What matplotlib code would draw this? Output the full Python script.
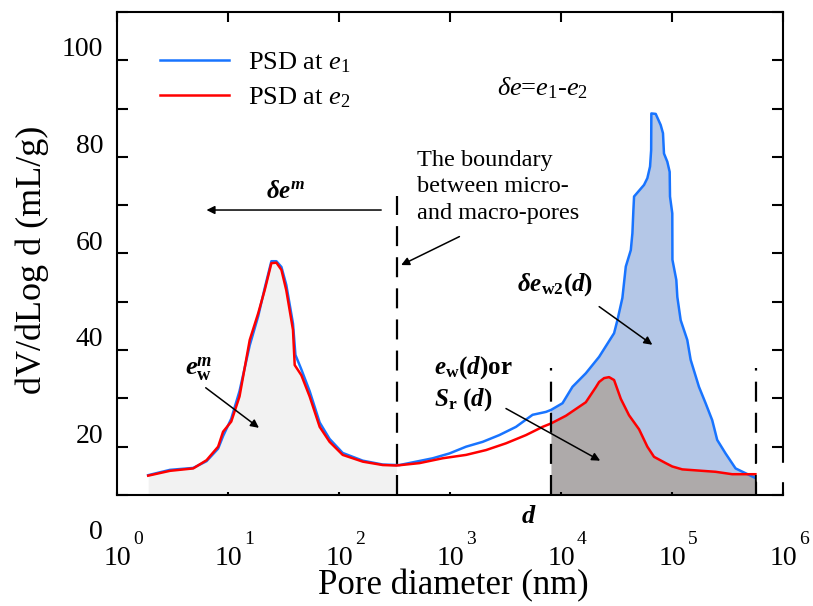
import numpy as np
import matplotlib
matplotlib.use('Agg')
import matplotlib.pyplot as plt
from matplotlib.patches import Rectangle
from matplotlib.ticker import NullLocator
from matplotlib.transforms import ScaledTranslation

plt.rcParams['font.family'] = ['Liberation Serif', 'DejaVu Serif']
plt.rcParams['mathtext.fontset'] = 'custom'
plt.rcParams['mathtext.rm'] = 'Liberation Serif'
plt.rcParams['mathtext.it'] = 'Liberation Serif:italic'
plt.rcParams['mathtext.bf'] = 'Liberation Serif:bold'
plt.rcParams['mathtext.sf'] = 'Liberation Serif:bold:italic'   # used as bold italic

# pore diameter (nm) / dV/dlogd (mL/g)
d_e1 = [1.91, 3.0, 4.86, 6.41, 8.15, 9.03, 10.7, 12.7, 15.7, 18.7, 21.4, 24.6,
        27.3, 30.3, 33.5, 38.5, 40.5, 45.8, 54.4, 67, 82.3, 108, 164, 248, 330,
        351, 699, 988, 1396, 1969, 2782, 3929, 5546, 7316, 8115, 10320, 12690,
        16740, 22050, 30080, 32230, 35730, 38350, 42550, 43980, 44900, 45530,
        50490, 55990, 59980, 63420, 64900, 65150, 71330, 79090, 82950, 84690,
        90720, 95300, 95940, 100600, 100900, 109400, 111700, 119700, 137300,
        147200, 174900, 200800, 230200, 255400, 303800, 373900, 460100, 566000]
psd_e1 = [4.1, 5.2, 5.6, 7.0, 9.6, 12.2, 15.8, 21.5, 31.0, 37.0, 42.8, 48.4,
          48.4, 47.2, 43.5, 35.5, 29.0, 26.0, 21.5, 15.0, 11.6, 8.7, 7.1, 6.3, 6.2,
          6.2, 7.6, 8.6, 10.0, 11.0, 12.4, 14.1, 16.6, 17.2, 17.6, 19.0, 22.4,
          25.2, 28.6, 33.5, 36.2, 40.8, 47.3, 50.7, 54.2, 59.0, 61.8,
          63.0, 64.2, 65.6, 68.0, 71.4, 79.0, 78.9, 76.6, 74.9, 70.7,
          69.0, 66.9, 61.8, 58.3, 48.7, 44.5, 41.0, 36.2, 32.1,
          28.0, 22.4, 19.0, 15.5, 11.4, 8.6, 5.5, 4.5, 3.5]

d_e2 = [1.91, 3.0, 4.86, 6.41, 8.15, 9.03, 10.7, 12.7, 15.7, 18.7, 21.4, 24.6,
        27.3, 30.3, 33.5, 38.5, 39.9, 45.8, 54.4, 67, 82.3, 108, 164, 248, 330,
        531, 859, 1396, 2113, 3197, 4835, 6819, 8115, 11070, 16740, 20590,
        22050, 24450, 27110, 30080, 34590, 41020, 50490, 59980, 68870, 87700,
        100600, 123800, 247100, 348300, 566000]
psd_e2 = [4.0, 5.0, 5.5, 7.2, 10.0, 13.1, 15.2, 20.4, 32.1, 37.6, 42.4, 48.0,
          48.1, 46.6, 42.4, 34.2, 26.9, 24.8, 20.4, 14.1, 11.0, 8.3, 6.9, 6.2, 6.1,
          6.6, 7.6, 8.3, 9.3, 10.7, 12.4, 14.1, 14.8, 16.4, 19.2, 22.3,
          23.4, 24.2, 24.4, 23.8, 19.9, 16.5, 13.6, 10.0, 7.9, 6.6,
          5.9, 5.3, 4.8, 4.3, 4.3]

d_boundary = 330      # micro / macro boundary
d_lo, d_hi = 8115, 566000

d1, v1 = np.array(d_e1), np.array(psd_e1)
d2, v2 = np.array(d_e2), np.array(psd_e2)

fig = plt.figure(figsize=(8.13, 6.06), dpi=100)
ax = fig.add_axes([0.1439, 0.1832, 0.8192, 0.797])

m = d2 <= d_boundary
ax.fill_between(d2[m], 0, v2[m], color='#f2f2f2', lw=0)
mb = (d1 >= d_lo) & (d1 <= d_hi)
mr = (d2 >= d_lo) & (d2 <= d_hi)
ax.fill(np.r_[d1[mb], d2[mr][::-1]], np.r_[v1[mb], v2[mr][::-1]],
        color='#b4c7e7', lw=0)
ax.fill_between(d2[mr], 0, v2[mr], color='#aeaaaa', lw=0)

ax.plot(d1, v1, color='#1874ff', lw=1.8, label='PSD at $e_1$')
ax.plot(d2, v2, color='#ff0000', lw=1.8, label='PSD at $e_2$')

ax.plot([d_boundary, d_boundary], [0, 62], color='k', lw=1.6, dashes=(9, 5))
ax.plot([d_lo, d_lo], [0, 26.2], color='k', lw=1.6, dashes=(9, 5))
ax.plot([d_hi, d_hi], [0, 26.2], color='k', lw=1.6, dashes=(9, 5))

ax.set_xscale('log')
ax.set_xlim(1, 1e6)
ax.set_ylim(0, 100)
ax.set_xticks([10**k for k in range(7)])
ax.set_xticklabels(['10'] * 7)
ax.xaxis.set_minor_locator(NullLocator())
yt = np.arange(0, 101, 10)
ax.set_yticks(yt)
ax.set_yticklabels([str(v) if v % 20 == 0 else '' for v in yt])

for s in ax.spines.values():
    s.set_linewidth(1.5)
ax.tick_params(direction='in', top=True, right=True, width=1.5)
ax.tick_params(axis='y', length=8, pad=10, labelsize=20)
ax.tick_params(axis='x', length=7, pad=37, labelsize=20)
for t in ax.xaxis.get_major_ticks():
    t.tick1line.set_markersize(2.5)

off = ScaledTranslation(0, -0.35, fig.dpi_scale_trans)
for lab in ax.get_yticklabels():
    lab.set_transform(lab.get_transform() + off)

for k in range(7):
    ax.text(10**k, 0, str(k), fontsize=14, ha='center', va='center', clip_on=False,
            transform=ax.get_xaxis_transform() + ScaledTranslation(0.21, -0.45, fig.dpi_scale_trans))

ax.add_patch(Rectangle((0.961, 0.029), 0.05, 0.037, transform=ax.transAxes,
                       color='white', clip_on=False, zorder=5))

fig.text(453 / 813, 1 - 586 / 606, 'Pore diameter (nm)', fontsize=25, ha='center', va='center')
fig.text(32 / 813, 1 - 260 / 606, 'dV/dLog d (mL/g)', fontsize=26, rotation=90,
         ha='center', va='center')

ax.legend(loc='upper left', bbox_to_anchor=(0.0646, 0.921), frameon=False, fontsize=19,
          handlelength=2.6, handletextpad=0.75, labelspacing=0.4, borderpad=0,
          borderaxespad=0)

ax.text(2668, 84.3, r'$\delta e$=$e_1$-$e_2$', fontsize=19, ha='left', va='center')
ax.text(509, 63.8, 'The boundary\nbetween micro-\nand macro-pores', fontsize=17.5,
        ha='left', va='center', linespacing=1.33)

arrow = dict(arrowstyle='-|>', color='k', lw=1.1, mutation_scale=12, shrinkA=0, shrinkB=0)
ax.annotate('', xy=(6.4, 59.0), xytext=(240, 59.0), arrowprops=arrow)
ax.annotate('', xy=(363, 47.6), xytext=(1216, 53.5), arrowprops=arrow)
ax.annotate('', xy=(66500, 31.1), xytext=(22070, 39.0), arrowprops=arrow)
ax.annotate('', xy=(19.0, 13.9), xytext=(6.3, 22.2), arrowprops=arrow)
ax.annotate('', xy=(22530, 7.1), xytext=(3194, 17.9), arrowprops=arrow)

ax.text(33, 62.7, r'$\mathsf{\delta e^m}$', fontsize=18, ha='center', va='center')
ax.text(8870, 43.5, r'$\mathsf{\delta e}_{\mathbf{w2}}\mathbf{(}\mathsf{d}\mathbf{)}$',
        fontsize=18, ha='center', va='center')
ax.text(5.46, 26.1, r'$\mathsf{e}_{\mathbf{w}}^{\mathsf{m}}$', fontsize=19,
        ha='center', va='center')
ax.text(724, 26.3, r'$\mathsf{e}_{\mathbf{w}}\mathbf{(}\mathsf{d}\mathbf{)or}$',
        fontsize=18, ha='left', va='center')
ax.text(724, 19.7, r'$\mathsf{S}_{\mathbf{r}}\ \mathbf{(}\mathsf{d}\mathbf{)}$',
        fontsize=18, ha='left', va='center')
ax.text(5176, -4.55, r'$\mathsf{d}$', fontsize=19, ha='center', va='center', clip_on=False)

plt.savefig('out.png', dpi=100)
